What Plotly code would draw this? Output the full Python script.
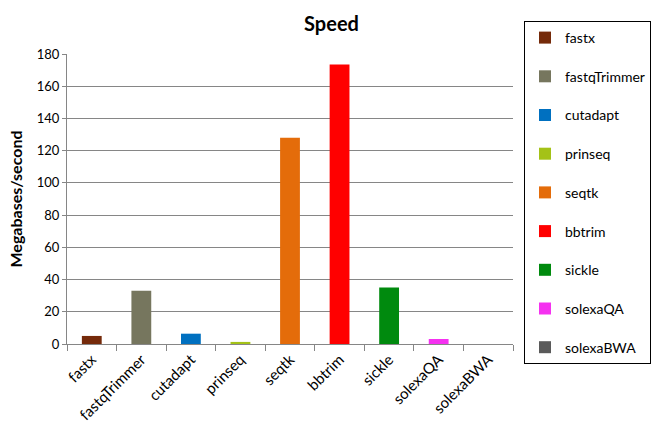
import plotly.graph_objects as go

categories = ["fastx", "fastqTrimmer", "cutadapt", "prinseq", "seqtk",
              "bbtrim", "sickle", "solexaQA", "solexaBWA"]
speeds = [5.0, 33.0, 6.4, 1.3, 128.0, 173.5, 35.0, 3.1, 0.0]
colors = ["#752A0A", "#76765E", "#0070C0", "#A4C217", "#E46C0A",
          "#FF0000", "#008A0E", "#F531F0", "#5A5A5A"]
y_ticks = [0, 20, 40, 60, 80, 100, 120, 140, 160, 180]

FONT = "Lato, 'Noto Sans', sans-serif"

fig = go.Figure()
for cat, val, col in zip(categories, speeds, colors):
    fig.add_trace(go.Bar(
        x=[cat], y=[val], name=cat, legendgroup=cat,
        marker=dict(color=col, line=dict(width=0)),
        width=0.4,
    ))

fig.update_layout(
    width=663, height=447,
    margin=dict(l=67, r=150, t=54, b=103),
    paper_bgcolor="white", plot_bgcolor="white",
    barmode="overlay",
    font=dict(family=FONT, size=13, color="#000000"),
    title=dict(text="<b>Speed</b>", x=0.5, xref="container", xanchor="center",
               y=1 - 24 / 447, yref="container", yanchor="middle",
               font=dict(family=FONT, size=20, color="#000")),
    xaxis=dict(
        categoryorder="array", categoryarray=categories,
        tickson="boundaries", ticks="outside", ticklen=6, tickcolor="#868686",
        showline=True, linecolor="#868686", linewidth=1,
        showgrid=False, tickangle=-45,
        tickfont=dict(family=FONT, size=15, color="#000"),
        range=[-0.5, len(categories) - 0.5],
    ),
    yaxis=dict(
        range=[0, 180], tickvals=y_ticks, ticks="outside", ticklen=4,
        tickcolor="#868686", showline=True, linecolor="#868686", linewidth=1,
        showgrid=True, gridcolor="#868686", gridwidth=1, zeroline=False,
        tickfont=dict(family=FONT, size=13, color="#000"),
        title=dict(text="<b>Megabases/second</b>", standoff=10,
                   font=dict(family=FONT, size=16, color="#000")),
    ),
    legend=dict(
        x=(524 - 67) / 446, xanchor="left",
        y=(344 - 21) / 290, yanchor="top",
        bordercolor="#000", borderwidth=1, bgcolor="white",
        font=dict(family=FONT, size=14, color="#000"),
        traceorder="grouped", tracegroupgap=17.5, itemwidth=30,
        maxheight=440,
    ),
)

fig.write_html("out.html", config={"displayModeBar": False},
               post_script="document.body.style.margin='0';")
